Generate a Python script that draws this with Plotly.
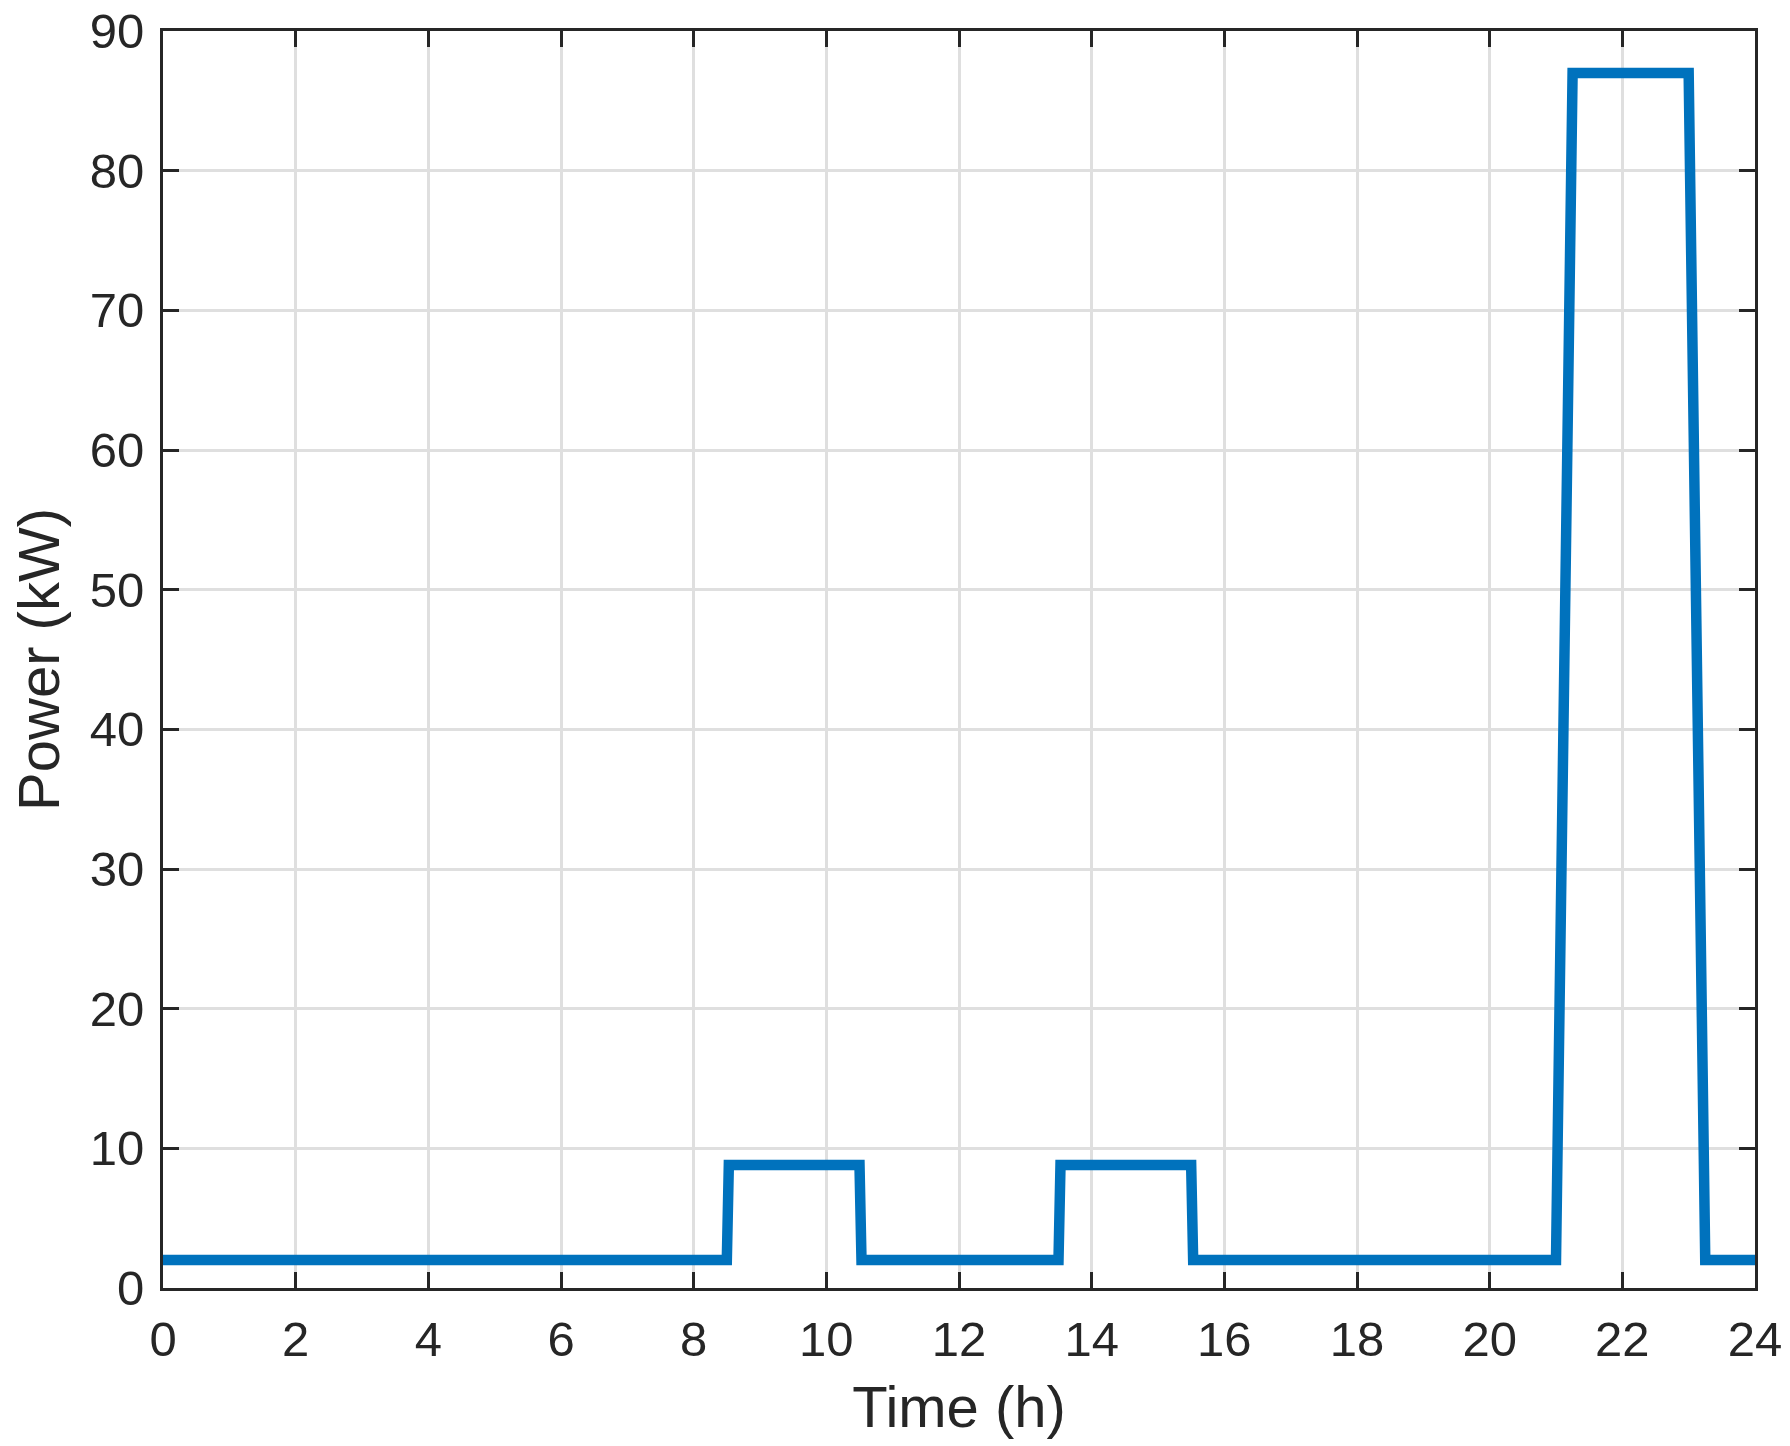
import plotly.graph_objects as go

# time (h) and power (kW)
time_h = [0, 8.5, 8.53, 10.5, 10.53, 13.5, 13.53, 15.5, 15.53, 21.0, 21.25, 23.0, 23.25, 24]
power_kw = [2, 2, 8.8, 8.8, 2, 2, 8.8, 8.8, 2, 2, 87, 87, 2, 2]

x_ticks = list(range(0, 25, 2))
y_ticks = list(range(0, 91, 10))

AXIS_COLOR = "#262626"
GRID_COLOR = "#dfdfdf"
FONT = "Liberation Sans, Arial, Helvetica, sans-serif"

fig = go.Figure()
fig.add_trace(go.Scatter(
    x=time_h, y=power_kw,
    mode="lines",
    line=dict(color="#0072BD", width=10.5),
    showlegend=False,
))

axis_style = dict(
    showline=True, linewidth=3, linecolor=AXIS_COLOR, mirror="allticks",
    ticks="inside", ticklen=16, tickwidth=3, tickcolor=AXIS_COLOR,
    showgrid=True, gridcolor=GRID_COLOR, gridwidth=2.5,
    zeroline=False,
    tickfont=dict(family=FONT, size=49, color=AXIS_COLOR),
    ticklabeloverflow="allow",
)

fig.update_xaxes(
    axis_style, range=[0, 24], tickvals=x_ticks,
    title=dict(text="Time (h)", font=dict(family=FONT, size=58, color=AXIS_COLOR), standoff=22),
    ticklabelstandoff=6,
)
fig.update_yaxes(
    axis_style, range=[0, 90], tickvals=y_ticks,
    title=dict(text="Power (kW)", font=dict(family=FONT, size=58, color=AXIS_COLOR), standoff=12),
    ticklabelstandoff=6,
)

fig.update_layout(
    width=1790, height=1446,
    plot_bgcolor="white", paper_bgcolor="white",
    margin=dict(l=163, r=35, t=31, b=158, autoexpand=False),
    font=dict(family=FONT, color=AXIS_COLOR),
)

# drop the default 8px body margin so the figure fills the window exactly
fig.write_html(
    "out.html",
    config={"displayModeBar": False},
    post_script="document.body.style.margin='0';document.body.style.overflow='hidden';",
)
